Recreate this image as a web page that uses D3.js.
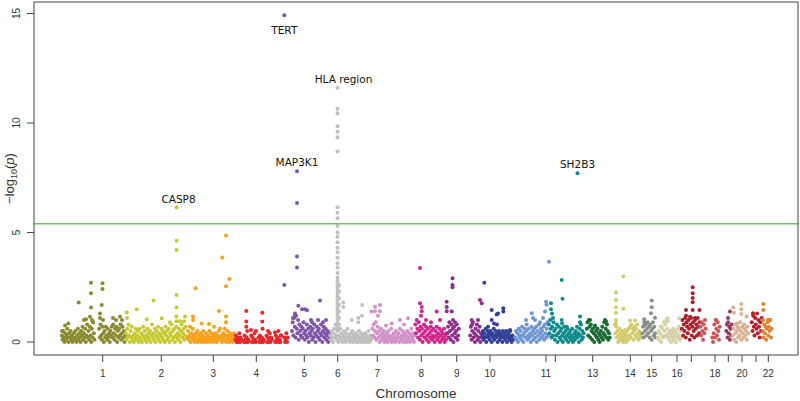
<!DOCTYPE html>
<html><head><meta charset="utf-8">
<script src="https://cdn.jsdelivr.net/npm/d3@7"></script>
<style>body{margin:0;background:#fff}svg{display:block}</style>
</head><body><svg id="c" width="800" height="401"></svg>
<script>
// ---- data ----
const chromosomes = ["1","2","3","4","5","6","7","8","9","10","11","12","13","14","15","16","17","18","19","20","21","22"];
const chrColors = ["#8a8a30","#c6c92f","#f4a11c","#e8262b","#7e55a8","#c0c0c0","#d291c8","#d0268c","#8f2d8c","#33409a","#7096d1","#11898a","#1a6b35","#d3cb6f","#8a8f87","#d7d1aa","#a8222d","#cd5454","#8e3d63","#d8b293","#b61e28","#d88634"];
// cumulative position (index units) of each chromosome's SNP block
const chrStart = [27.5,91.5,153,201,257.7,296,338,381,413,448,481,514.5,552.5,580.5,608,623.5,647.5,666,692,698.5,717.5,728.5];
const chrEnd   = [91.5,152,201,254,296,338,381,413,448,480,514.5,550,576,607,622,647.5,666,686,698,714.5,728,738];
const tickPos    = [68.7,127.3,179.3,222.3,270.3,303.7,343.3,387.3,422.7,456,512,521.3,558.7,596.3,617.7,643,657.3,681,694.3,708,722,734.3];
const tickLabels = ["1","2","3","4","5","6","7","8","9","10","11","","13","14","15","16","","18","","20","","22"];
const yTicks = [0,5,10,15];
const threshold = 5.4;

// background SNPs, -log10(p) in tenths, in genomic order (null = no SNPs genotyped)
const chr1 = [3,1,5,2,0,4,1,3,6,2,0,4,2,5,1,3,0,2,4,1,5,2,0,3,6,1,4,2,0,5,3,7,1,4,2,6,0,3,8,2,5,1,7,3,0,6,2,9,4,1,null,null,null,null,null,null,6,2,8,3,1,7,4,0,5,2,7,3,1,6,2,4,0,5,3,7,2,8,4,1,6,3,7,0,5,2,6,3,8,1,4,7,2,5,0,3];
const chr2 = [4,1,6,2,8,3,0,5,2,7,1,3,0,4,2,6,1,3,5,0,2,6,1,4,0,3,7,2,5,1,3,0,6,2,4,1,5,0,3,8,2,4,1,6,0,3,5,2,7,1,4,0,3,6,2,5,1,4,0,7,3,5,1,2,6,0,4,3,8,1,5,2,6,0,3,7,2,4,1,6,3,0,5,8,2,4,6,1,3,7];
const chr3 = [2,5,1,3,7,0,4,2,6,1,3,0,2,4,1,5,0,3,1,2,4,0,1,3,5,2,0,1,4,2,0,3,1,5,2,0,4,1,2,3,0,1,4,2,0,3,1,5,2,6,1,3,0,2,4,1,6,3,0,2,5,1,3,0,4,2,1,3,0,2,4,1];
const chr4 = [1,3,0,2,0,1,4,0,2,1,null,null,null,0,3,1,0,2,5,0,1,null,null,null,3,0,2,0,1,4,1,0,null,null,null,2,0,3,1,0,2,6,0,1,null,null,null,3,0,2,0,1,4,0,2,1,null,null,null,null,0,3,1,0,2,5,0,1,0,3,null,null,null,null,2,0,1,4,0,2];
const chr5 = [5,9,3,11,7,2,12,6,4,10,1,8,5,3,7,2,6,9,4,1,5,3,8,2,6,0,4,7,3,5,1,6,2,8,4,0,3,7,5,2,6,1,4,8,3,0,5,7,2,4,6,1,3,5,0,4,2];
const chr6 = [3,1,5,2,0,4,6,2,8,3,1,5,0,3,2,6,1,4,0,2,3,5,1,0,4,2,6,1,3,0,2,4,1,5,0,3,2,1,4,0,2,3,0,5,1,2,4,0,3,1,2,0,4,1,3,0,2,5,1,0,3,1,2];
const chr7 = [6,3,8,2,5,9,1,4,7,2,5,0,3,6,1,4,2,5,0,3,1,4,2,0,5,3,1,2,6,0,3,1,4,2,0,5,1,3,2,4,0,6,2,1,3,5,0,2,4,1,3,0,5,2,1,4,0,3,6,2,1,4,0,3];
const chr8 = [8,4,10,6,2,9,5,1,7,3,6,0,4,8,2,5,7,1,3,6,0,4,2,7,5,1,3,6,2,0,5,3,7,1,4,2,6,0,3,5,1,4,2,6,0,3,1,4];
const chr9 = [4,7,2,9,5,1,8,3,6,0,7,4,2,5,8,1,3,6,null,null,null,null,null,null,null,null,null,null,null,null,null,null,null,null,3,7,1,5,9,2,4,0,6,3,8,1,5,2,7,0,4,2];
const chr10 = [3,5,1,4,2,6,0,3,5,2,4,1,5,3,0,4,2,6,1,3,5,2,4,0,3,5,1,4,2,3,0,5,2,4,1,3,5,0,2,4,3,1,5,2,0,3,1,2];
const chr11 = [2,5,1,4,0,6,3,2,5,1,7,3,0,4,6,2,5,8,1,3,6,2,4,0,7,3,5,1,6,4,2,7,0,5,3,8,1,4,6,2,5,3,7,1,8,4,2,6,9,3];
const chr12 = [8,4,10,6,2,7,3,9,5,1,6,3,8,0,4,7,2,5,1,6,3,0,4,7,2,5,1,3,6,0,4,2,5,1,3,6,0,2,4,1,5,3,7,2,4,0,6,3,8,1,5,2,4];
const chr13 = [6,9,3,10,7,2,8,5,1,6,4,0,7,3,5,2,6,1,4,0,3,5,2,7,1,4,9,3,6,2,8,5,1,4,2];
const chr14 = [8,4,7,2,5,0,3,6,1,4,2,5,0,3,1,4,2,0,3,5,1,6,3,7,2,8,4,6,1,5,7,3,6,2,8,4,1,5,3,2];
const chr15 = [4,7,2,9,5,8,3,6,9,4,7,2,8,5,1,6,9,3,7,4,2];
const chr16 = [2,5,1,4,7,0,3,6,2,9,5,8,3,10,6,2,4,1,5,3,0,4,2,6,1,3,5,0,4,2,6,3,7,1,5,2];
const chr17 = [6,10,3,8,5,11,2,9,7,4,10,6,1,8,11,3,7,9,5,2,10,6,8,3,11,7,4,9];
const chr18 = [7,3,9,5,1,8,4,10,6,null,null,null,null,null,null,null,null,null,2,0,4,8,2,10,6,3,9,5,1,7];
const chr19 = [5,8,2,9,4,7,1,6,3,8];
const chr20 = [3,6,1,8,4,0,5,7,2,6,3,9,5,1,7,4,2,8,6,3,5,1,7,4];
const chr21 = [9,5,12,7,3,11,8,6,13,4,10,7,2,9,5,11];
const chr22 = [5,2,8,4,7,1,6,9,3,7,5,10,2,6];
const backgroundSNPs = [chr1,chr2,chr3,chr4,chr5,chr6,chr7,chr8,chr9,chr10,chr11,chr12,chr13,chr14,chr15,chr16,chr17,chr18,chr19,chr20,chr21,chr22];

// associated SNPs: [chromosome index, position, -log10(p)]
const hits = [
 [0,34.3,0.85],[0,28,0.5],[0,44.7,1.8],[0,57,2.71],[0,57,2.22],[0,57,1.57],[0,68.5,2.68],[0,68.5,2.42],[0,67.7,1.69],[0,52,1.04],[0,50,1.0],[0,56,1.15],[0,58,1.0],[0,66,1.3],[0,66,1.1],[0,69,1.0],[0,79,1.1],[0,82,1.0],[0,86,1.15],[0,88,1.0],[0,31,0.75],[0,59,0.9],
 [1,92.7,1.35],[1,93,1.1],[1,102.7,1.49],[1,119.5,1.89],[1,127.7,1.08],[1,112.7,1.04],[1,142.5,6.14],[1,142.5,4.62],[1,142.5,4.2],[1,142.5,2.15],[1,142.5,1.58],[1,142.5,1.16],[1,142.5,0.95],[1,151,1.16],[1,150,0.95],[1,136,0.9],[1,146,0.95],
 [2,161.7,2.45],[2,159,1.16],[2,159,1.0],[2,167.7,0.85],[2,175,0.82],[2,185,1.42],[2,192,4.86],[2,188.3,3.86],[2,195.3,2.88],[2,192,2.55],[2,192,1.16],[2,192,0.9],[2,180,0.7],
 [3,212.3,1.42],[3,212.3,0.93],[3,212.3,0.7],[3,228.3,1.33],[3,228.3,0.93],[3,217,0.55],[3,222,0.5],[3,234,0.5],[3,241,0.45],[3,247,0.3],
 [4,250.3,14.92],[4,250.3,2.6],[4,263,7.8],[4,263,6.35],[4,263,3.9],[4,263,3.4],[4,264.3,1.65],[4,268,1.5],[4,271,1.5],[4,273,1.45],[4,261,1.3],[4,261,1.2],[4,259,1.1],[4,286,1.89],[4,277,1.0],[4,278,0.9],[4,284,1.0],[4,289,0.9],[4,292,1.0],
 [5,303.5,11.6],[5,303.5,10.65],[5,303.5,10.45],[5,303.5,9.85],[5,303.5,9.6],[5,303.5,9.35],[5,303.5,8.7],[5,303.5,6.15],[5,303.5,5.9],[5,303.5,5.65],[5,303.5,5.3],[5,303.5,5.0],[5,303.5,4.8],[5,303.5,4.55],[5,303.5,4.3],[5,303.5,4.1],[5,303.5,3.85],[5,303.5,3.6],[5,303.5,3.4],[5,303.5,3.15],[5,303.5,2.95],[5,303.5,2.8],[5,303.5,2.65],[5,303.5,2.5],[5,303.5,2.35],[5,303.5,2.2],[5,303.5,2.05],[5,303.5,1.9],[5,303.5,1.75],[5,303.5,1.6],[5,303.5,1.45],[5,303.5,1.3],[5,303.5,1.15],[5,303.5,1.0],[5,303.5,0.85],[5,303.5,0.7],[5,303.5,0.55],
 [5,305,2.6],[5,305,2.3],[5,305,2.0],[5,305,1.7],[5,305,1.4],[5,305,1.1],[5,305,0.8],
 [5,309.3,1.8],[5,309.3,1.6],[5,317.7,1.0],[5,324.3,0.9],[5,324.3,1.1],[5,328.3,1.69],[5,328,1.2],
 [6,341,1.61],[6,346,1.69],[6,346,1.4],[6,341,1.4],[6,344,1.2],[6,337.5,1.39],[6,357.7,0.85],[6,366,1.0],[6,374,1.08],[6,370,0.8],[6,352,0.75],
 [7,386,3.38],[7,386,1.77],[7,387.7,1.6],[7,387.7,1.4],[7,387,1.2],[7,402.7,1.39],[7,406,1.0],[7,392,1.0],[7,397,0.9],
 [8,418.5,2.91],[8,418.5,2.6],[8,418.5,2.5],[8,412.7,1.84],[8,412.7,1.6],[8,412.7,1.4],[8,417.7,1.39],[8,419,1.0],[8,421,0.9],[8,446,1.92],[8,447.7,1.77],[8,444,1.0],[8,437.7,1.0],[8,438,0.8],
 [9,450.3,2.71],[9,457.7,1.46],[9,462.7,1.25],[9,464,1.3],[9,469.3,1.54],[9,469.3,1.39],[9,457.7,1.0],[9,460,0.85],[9,463,0.8],[9,476,0.55],[9,454,0.7],
 [10,515,3.66],[10,512,1.84],[10,512.5,1.7],[10,511,1.39],[10,497.7,1.31],[10,499,1.1],[10,501,1.0],[10,492,1.0],[10,509,1.1],[10,506,0.9],
 [11,527.7,2.83],[11,528.5,1.97],[11,543.5,7.71],[11,517,1.77],[11,517,1.5],[11,518,1.3],[11,519,1.1],[11,527.7,1.0],[11,528,0.85],[11,532.7,0.7],[11,546,1.16],[11,546,0.9],
 [12,556,1.0],[12,571,1.0],[12,572,0.95],[12,561,0.75],
 [13,589.3,2.99],[13,582,2.26],[13,582,1.92],[13,582,1.59],[13,582,1.34],[13,589.3,1.52],[13,596,0.98],[13,601,0.98],[13,582,1.0],[13,582,0.85],[13,591,0.55],
 [14,617.7,1.89],[14,617.7,1.59],[14,617,1.31],[14,621,1.11],[14,610.3,1.04],[14,610,0.75],
 [15,633.7,1.08],[15,633.7,0.95],[15,627.7,0.7],[15,645,1.08],[15,638,0.5],
 [16,658.7,2.5],[16,658.7,2.23],[16,658.7,2.01],[16,658.7,1.81],[16,658.7,1.46],[16,652,1.46],[16,665.5,1.46],[16,652,1.2],[16,656,1.15],[16,661,1.1],
 [17,682,1.0],
 [18,696,1.39],[18,694,1.1],
 [19,699.3,1.57],[19,700,1.34],[19,707.3,1.74],[19,707.3,1.49],[19,707.3,1.28],[19,712.7,1.16],[19,703,0.85],
 [20,719,1.31],
 [21,729.3,1.74],[21,729.3,1.46],[21,729,1.0],[21,734,1.0],[21,736,1.0]
];
// annotated loci
const geneNames = ["TERT","HLA region","MAP3K1","SH2B3","CASP8"];
const genePos   = [250.3,303.5,263,543.5,142.5];
const geneVal   = [14.92,11.6,7.8,7.71,6.14];
const geneBelow = [true,false,false,false,false];
const geneDx    = [0,6,0,0,2];

// ---- drawing ----
const svg = d3.select("#c");
const L = 34, R = 798, T = 2, B = 355;
const x = d3.scaleLinear().domain([0,764]).range([L,R]);
const y = d3.scaleLinear().domain([-0.594,15.525]).range([B,T]);
const font = "'Liberation Sans', Arial, sans-serif";

// points
const pts = [];
backgroundSNPs.forEach((vals,c)=>{
  const n = vals.length, w = (chrEnd[c]-chrStart[c])/n;
  vals.forEach((v,k)=>{ if(v!==null) pts.push({c, pos: chrStart[c]+(k+0.5)*w, v: v/10}); });
});
hits.forEach(h=>pts.push({c:h[0], pos:h[1], v:h[2]}));

svg.append("g").selectAll("circle").data(pts).join("circle")
  .attr("cx",d=>x(d.pos)).attr("cy",d=>y(d.v)).attr("r",2)
  .attr("fill",d=>chrColors[d.c]);

// threshold line
svg.append("line").attr("x1",L).attr("x2",R).attr("y1",y(threshold)).attr("y2",y(threshold))
  .attr("stroke","#6ccb5f").attr("stroke-width",1.3);

// box
svg.append("rect").attr("x",L).attr("y",T).attr("width",R-L).attr("height",B-T)
  .attr("fill","none").attr("stroke","#444").attr("stroke-width",1);

// y axis
const ya = svg.append("g");
ya.selectAll("line").data(yTicks).join("line")
  .attr("x1",L-7).attr("x2",L).attr("y1",d=>y(d)).attr("y2",d=>y(d)).attr("stroke","#444");
ya.selectAll("text").data(yTicks).join("text")
  .attr("transform",d=>`translate(19.5,${y(d)}) rotate(-90)`)
  .attr("text-anchor","middle").attr("font-family",font).attr("font-size",10).attr("fill","#333")
  .text(d=>d);

// x axis
const xa = svg.append("g");
xa.selectAll("line").data(tickPos).join("line")
  .attr("x1",d=>x(d)).attr("x2",d=>x(d)).attr("y1",B).attr("y2",B+7).attr("stroke","#444");
xa.selectAll("text").data(tickPos).join("text")
  .attr("x",d=>x(d)).attr("y",377).attr("text-anchor","middle")
  .attr("font-family",font).attr("font-size",10).attr("fill","#333")
  .text((d,i)=>tickLabels[i]);

svg.append("text").attr("x",(L+R)/2).attr("y",398).attr("text-anchor","middle")
  .attr("font-family",font).attr("font-size",13.5).attr("fill","#333").text("Chromosome");

// y label
const yl = svg.append("text").attr("transform",`translate(14,${(T+B)/2}) rotate(-90)`)
  .attr("text-anchor","middle").attr("font-family",font).attr("font-size",13).attr("fill","#333");
yl.append("tspan").text("\u2212log");
yl.append("tspan").attr("font-size",9).attr("dy",3).text("10");
yl.append("tspan").attr("dy",-3).text("(");
yl.append("tspan").attr("font-style","italic").text("p");
yl.append("tspan").text(")");

// gene labels
svg.append("g").selectAll("text").data(geneNames).join("text")
  .attr("x",(d,i)=>x(genePos[i]) + geneDx[i])
  .attr("y",(d,i)=>y(geneVal[i]) + (geneBelow[i] ? 19 : -5))
  .attr("text-anchor","middle").attr("font-family","'DejaVu Sans', Verdana, sans-serif")
  .attr("font-size",10.5).attr("fill","#111").text(d=>d);
</script></body></html>
